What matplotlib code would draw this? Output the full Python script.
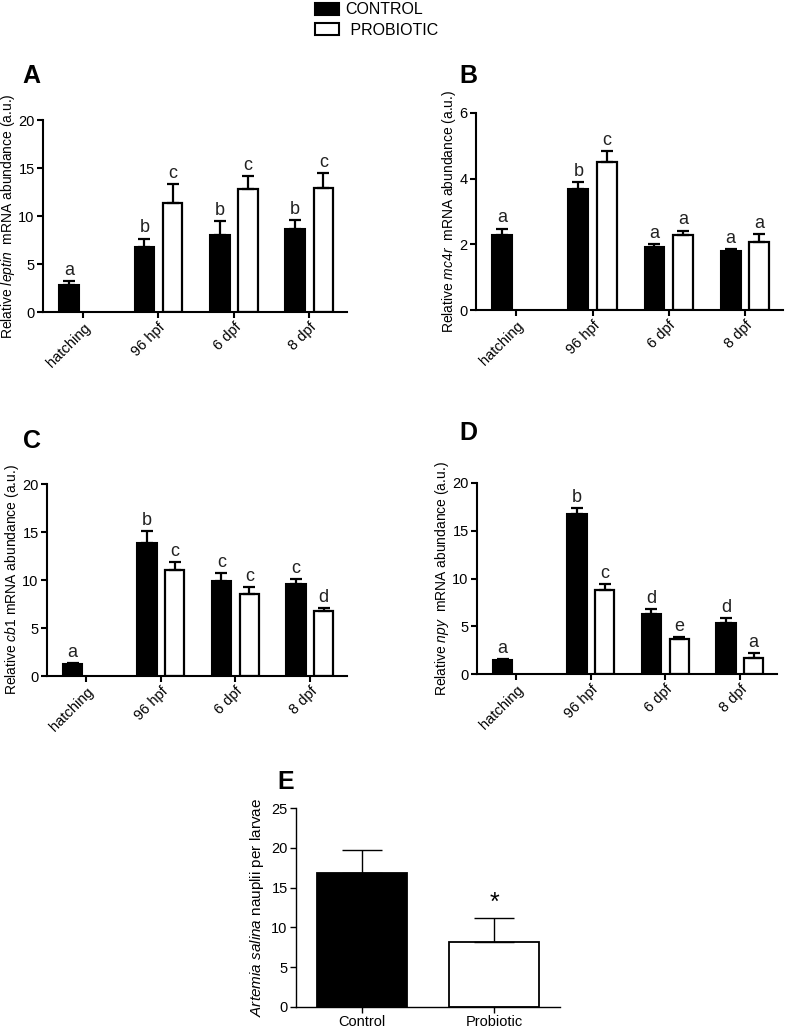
import matplotlib.pyplot as plt
from matplotlib.patches import Patch
import numpy as np

plt.rcParams['font.family'] = ['Liberation Sans', 'DejaVu Sans']
plt.rcParams['mathtext.fontset'] = 'custom'
plt.rcParams['mathtext.rm'] = 'Liberation Sans'
plt.rcParams['mathtext.it'] = 'Liberation Sans:italic'

# --- Data
stages = ["hatching", "96 hpf", "6 dpf", "8 dpf"]

# A : leptin
leptin_ctrl = [2.85, 6.8, 8.0, 8.6]
leptin_ctrl_err = [0.35, 0.85, 1.45, 1.0]
leptin_prob = [11.4, 12.8, 12.9]
leptin_prob_err = [1.95, 1.4, 1.55]
leptin_ctrl_let = ["a", "b", "b", "b"]
leptin_prob_let = ["c", "c", "c"]

# B : mc4r
mc4r_ctrl = [2.28, 3.7, 1.93, 1.81]
mc4r_ctrl_err = [0.2, 0.19, 0.07, 0.06]
mc4r_prob = [4.52, 2.27, 2.07]
mc4r_prob_err = [0.31, 0.15, 0.24]
mc4r_ctrl_let = ["a", "b", "a", "a"]
mc4r_prob_let = ["c", "a", "a"]

# C : cb1
cb1_ctrl = [1.2, 13.85, 9.86, 9.58]
cb1_ctrl_err = [0.12, 1.22, 0.87, 0.52]
cb1_prob = [11.08, 8.58, 6.8]
cb1_prob_err = [0.8, 0.69, 0.28]
cb1_ctrl_let = ["a", "b", "c", "c"]
cb1_prob_let = ["c", "c", "d"]

# D : npy
npy_ctrl = [1.45, 16.78, 6.26, 5.38]
npy_ctrl_err = [0.08, 0.56, 0.52, 0.49]
npy_prob = [8.81, 3.64, 1.64]
npy_prob_err = [0.63, 0.21, 0.6]
npy_ctrl_let = ["a", "b", "d", "d"]
npy_prob_let = ["c", "e", "a"]

# E : food intake
groups_e = ["Control", "Probiotic"]
nauplii = [16.8, 8.2]
nauplii_err = [2.9, 3.0]

W, H = 787, 1030
fig = plt.figure(figsize=(W / 100, H / 100), dpi=100)


def px_axes(x0, y0, x1, y1):
	return fig.add_axes([x0 / W, 1 - y1 / H, (x1 - x0) / W, (y1 - y0) / H])


def panel(ax, ctrl, ctrl_err, prob, prob_err, ctrl_let, prob_let, ymax, ystep, ylabel):
	w, off = 0.26, 0.187
	x = np.arange(len(stages))
	xp = x[1:]
	ax.bar(x - off, ctrl, w, color='black', edgecolor='black', linewidth=1.5, zorder=2)
	ax.errorbar(x - off, ctrl, yerr=[np.zeros(len(ctrl)), ctrl_err], fmt='none',
				ecolor='black', elinewidth=1.6, capsize=4.5, capthick=1.6, zorder=3)
	ax.bar(xp + off, prob, w, color='white', edgecolor='black', linewidth=1.6, zorder=2)
	ax.errorbar(xp + off, prob, yerr=[np.zeros(len(prob)), prob_err], fmt='none',
				ecolor='black', elinewidth=1.6, capsize=4.5, capthick=1.6, zorder=3)
	for xi, v, e, let in zip(x - off, ctrl, ctrl_err, ctrl_let):
		ax.annotate(let, (xi, v + e), xytext=(0, 1.5), textcoords='offset points',
					ha='center', va='bottom', fontsize=13, color='#222222')
	for xi, v, e, let in zip(xp + off, prob, prob_err, prob_let):
		ax.annotate(let, (xi, v + e), xytext=(0, 1.5), textcoords='offset points',
					ha='center', va='bottom', fontsize=13, color='#222222')
	ax.set_xlim(-0.53, 3.5)
	ax.set_ylim(0, ymax)
	ax.set_yticks(np.arange(0, ymax + 0.1, ystep))
	ax.set_xticks(x)
	ax.set_xticklabels(stages, rotation=45, ha='right', rotation_mode='anchor')
	ax.set_ylabel(ylabel, fontsize=10, labelpad=1)
	for s in ['top', 'right']:
		ax.spines[s].set_visible(False)
	for s in ['left', 'bottom']:
		ax.spines[s].set_linewidth(1.5)
	ax.tick_params(width=1.5, length=4, labelsize=10.5, pad=2)


axA = px_axes(43, 120, 347, 312)
panel(axA, leptin_ctrl, leptin_ctrl_err, leptin_prob, leptin_prob_err,
	  leptin_ctrl_let, leptin_prob_let, 20, 5, r"Relative $\it{leptin}$  mRNA abundance (a.u.)")
axB = px_axes(476, 113, 783, 310)
panel(axB, mc4r_ctrl, mc4r_ctrl_err, mc4r_prob, mc4r_prob_err,
	  mc4r_ctrl_let, mc4r_prob_let, 6, 2, r"Relative $\it{mc4r}$  mRNA abundance (a.u.)")
axC = px_axes(47, 484, 347, 676)
panel(axC, cb1_ctrl, cb1_ctrl_err, cb1_prob, cb1_prob_err,
	  cb1_ctrl_let, cb1_prob_let, 20, 5, r"Relative $\it{cb1}$ mRNA abundance (a.u.)")
axD = px_axes(477, 483, 777, 674)
panel(axD, npy_ctrl, npy_ctrl_err, npy_prob, npy_prob_err,
	  npy_ctrl_let, npy_prob_let, 20, 5, r"Relative $\it{npy}$  mRNA abundance (a.u.)")

# -- Panel E
axE = px_axes(296, 808, 560, 1007)
xe = np.arange(len(groups_e))
axE.bar(xe, nauplii, 0.68, color=['black', 'white'], edgecolor='black', linewidth=1.3, zorder=2)
axE.errorbar(xe, nauplii, yerr=[np.zeros(2), nauplii_err], fmt='none', ecolor='black',
			 elinewidth=1.0, capsize=14.5, capthick=1.0, zorder=3)
axE.annotate("*", (xe[1], nauplii[1] + nauplii_err[1]), xytext=(0, 2), textcoords='offset points',
			 ha='center', va='bottom', fontsize=18)
axE.set_xlim(-0.5, 1.5)
axE.set_ylim(0, 25)
axE.set_yticks(np.arange(0, 26, 5))
axE.set_xticks(xe)
axE.set_xticklabels(groups_e, fontsize=10.5)
axE.set_ylabel(r"$\it{Artemia\ salina}$ nauplii per larvae", fontsize=11, labelpad=4)
for s in ['top', 'right']:
	axE.spines[s].set_visible(False)
for s in ['left', 'bottom']:
	axE.spines[s].set_linewidth(1.0)
axE.tick_params(width=1.0, length=4, labelsize=10.5, pad=2)

# -- Panel tags
for tag, (tx, ty) in {"A": (22, 64), "B": (459, 64), "C": (23, 429), "D": (459, 421), "E": (277, 770)}.items():
	fig.text(tx / W, 1 - ty / H, tag, fontsize=18, fontweight='bold', va='top', ha='left')

# -- Legend
handles = [Patch(facecolor='black', edgecolor='black', linewidth=1.5, label='CONTROL'),
		   Patch(facecolor='white', edgecolor='black', linewidth=1.5, label=' PROBIOTIC')]
fig.legend(handles=handles, loc='upper left', bbox_to_anchor=(309 / W, 1.004), frameon=False,
		   fontsize=11.5, handlelength=1.5, handleheight=0.8, handletextpad=0.4,
		   labelspacing=0.35, borderaxespad=0.0)

fig.savefig("out.png", dpi=100)
